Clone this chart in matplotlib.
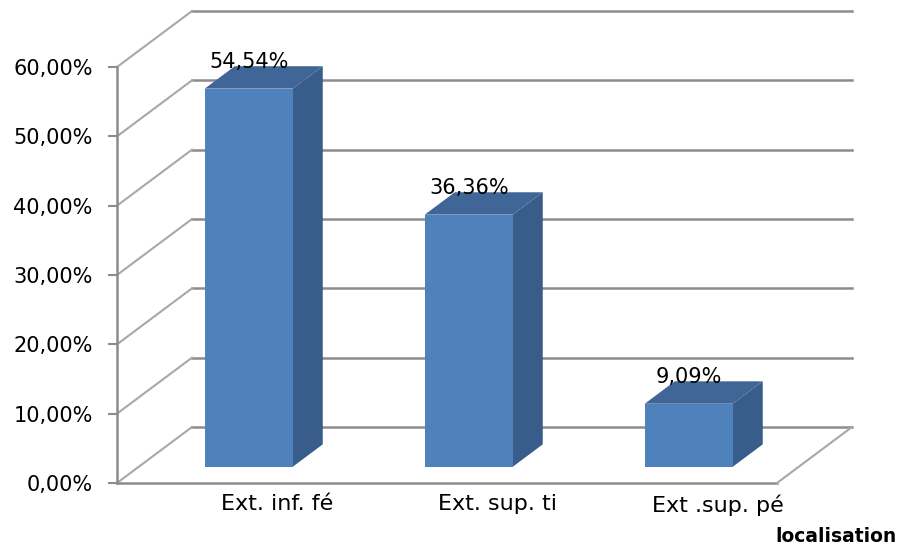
import matplotlib.pyplot as plt
from matplotlib.patches import Polygon
from matplotlib.ticker import FuncFormatter

# data
categories = ["Ext. inf. fé", "Ext. sup. ti", "Ext .sup. pé"]
values = [54.54, 36.36, 9.09]
value_labels = ["54,54%", "36,36%", "9,09%"]
y_ticks = [0, 10, 20, 30, 40, 50, 60]
x_title = "localisation"

# fake 3D geometry (data units): depth vector of the floor, bar placement
depth_x, depth_y = 0.341, 8.08
bar_front, bar_back = 0.29, 0.69
bar_left, bar_width = 0.3, 0.4

front_col = "#4F81BD"
side_col = "#385D8A"
top_col = "#3F6696"
grid_col = "#8c8c8c"
diag_col = "#a8a8a8"

fig = plt.figure(figsize=(9.03, 5.49), dpi=100)
ax = fig.add_axes([117 / 903, 66 / 549, 735 / 903, 472 / 549])
n = len(categories)
ax.set_xlim(0, n + depth_x)
ax.set_ylim(0, max(y_ticks) + depth_y)

# back wall gridlines + left wall diagonals
for v in y_ticks:
    ax.plot([depth_x, n + depth_x], [v + depth_y, v + depth_y], color=grid_col, lw=1.8,
            zorder=1, clip_on=False)
    ax.plot([0, depth_x], [v, v + depth_y], color=diag_col, lw=1.5, zorder=1, clip_on=False)

# floor edges
ax.plot([0, n], [0, 0], color=grid_col, lw=1.8, zorder=1, clip_on=False)
ax.plot([n, n + depth_x], [0, depth_y], color=diag_col, lw=1.5, zorder=1, clip_on=False)

# bars
fx, fy = bar_front * depth_x, bar_front * depth_y
bx, by = bar_back * depth_x, bar_back * depth_y
for i, (v, lab) in enumerate(zip(values, value_labels)):
    x0 = i + bar_left
    x1 = x0 + bar_width
    front = [(x0 + fx, fy), (x1 + fx, fy), (x1 + fx, fy + v), (x0 + fx, fy + v)]
    side = [(x1 + fx, fy), (x1 + bx, by), (x1 + bx, by + v), (x1 + fx, fy + v)]
    top = [(x0 + fx, fy + v), (x0 + bx, by + v), (x1 + bx, by + v), (x1 + fx, fy + v)]
    ax.add_patch(Polygon(side, closed=True, facecolor=side_col, edgecolor="none", zorder=3))
    ax.add_patch(Polygon(top, closed=True, facecolor=top_col, edgecolor="none", zorder=3))
    ax.add_patch(Polygon(front, closed=True, facecolor=front_col, edgecolor="none", zorder=4))
    ax.text(x0 + fx + bar_width / 2, fy + v + 3.9, lab, ha="center", va="center",
            fontsize=15, color="black", zorder=5)

for s in ["top", "right", "bottom"]:
    ax.spines[s].set_visible(False)
ax.spines["left"].set_bounds(0, max(y_ticks))
ax.spines["left"].set_color(grid_col)
ax.spines["left"].set_linewidth(1.8)

ax.set_yticks(y_ticks)
ax.yaxis.set_major_formatter(FuncFormatter(lambda v, p: f"{v:.2f}%".replace(".", ",")))
ax.tick_params(axis="y", length=6.5, width=1.5, color=grid_col, pad=11, labelsize=15)

ax.set_xticks([i + 0.73 for i in range(n)])
ax.set_xticklabels(categories)
ax.tick_params(axis="x", length=0, pad=8, labelsize=16)

fig.text(897 / 903, 1 - 537 / 549, x_title, ha="right", va="center",
         fontsize=13.5, fontweight="bold")

fig.savefig("out.png", dpi=100)
